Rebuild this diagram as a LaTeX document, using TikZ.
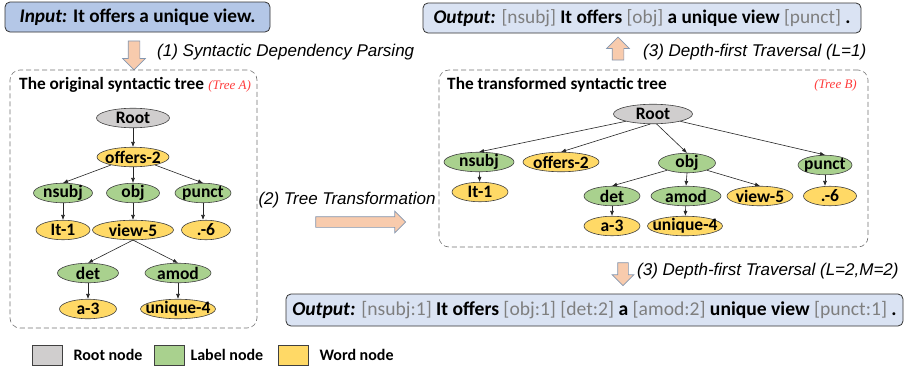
\documentclass[tikz,border=0pt]{standalone}
\usepackage{fontspec}
\setmainfont{Carlito}
\newfontfamily\stepfont{Liberation Sans}
\newfontfamily\treetagfont{Liberation Serif}
\usetikzlibrary{shapes.geometric,shapes.arrows,arrows.meta,positioning}
\definecolor{rootgrey}{HTML}{D0CECE}
\definecolor{labgreen}{HTML}{A9D18E}
\definecolor{wordyellow}{HTML}{FFD966}
\definecolor{inblue}{HTML}{B4C7E7}
\definecolor{outblue}{HTML}{DAE3F3}
\definecolor{arrowfill}{HTML}{F8CBAD}
\definecolor{arrowline}{HTML}{8497B0}
\definecolor{taggrey}{HTML}{7F7F7F}
\definecolor{tagred}{HTML}{FF3B3B}
\newcommand{\gtag}[1]{{\mdseries\color{taggrey}[#1]}}
\newcommand{\bigtext}{\fontsize{16}{19}\selectfont}
\tikzset{
  tnode/.style={ellipse, draw=black!75, line width=0.6pt, inner xsep=-8pt, inner ysep=-3pt,
    minimum height=19.5pt, font=\fontsize{17.5}{20}\selectfont\bfseries},
  rootnode/.style={tnode, fill=rootgrey},
  labnode/.style={tnode, fill=labgreen},
  wordnode/.style={tnode, fill=wordyellow},
  edge/.style={-{Latex[length=5pt,width=4pt]}, draw=black!85, line width=0.6pt},
  treebox/.style={draw=black!55, dash pattern=on 5pt off 3pt, rounded corners=10pt,
    line width=0.6pt, inner sep=0pt},
  sentbox/.style={draw=black!80, rounded corners=5pt, line width=0.8pt, inner sep=0pt},
  bigarrow/.style={single arrow, draw=arrowline, fill=arrowfill, line width=0.7pt,
    inner xsep=0pt, inner ysep=5.5pt, single arrow head extend=5.5pt},
  steplabel/.style={font=\stepfont\itshape\fontsize{17}{20}\selectfont, inner sep=0pt},
  treetitle/.style={font=\fontsize{17.3}{20}\selectfont\bfseries, inner sep=0pt},
  treetag/.style={font=\treetagfont\itshape\fontsize{13}{15}\selectfont, text=tagred, inner sep=0pt},
  legbox/.style={draw=black!75, line width=0.7pt, minimum width=30pt, minimum height=20pt, inner sep=0pt},
  legtext/.style={font=\bigtext\bfseries, inner sep=0pt}
}
\begin{document}
\begin{tikzpicture}[x=1pt,y=-1pt]
  \fill[white] (0,0) rectangle (908,370);
  \useasboundingbox (0,0) rectangle (908,370);

  % sentences
  \node[sentbox, fill=inblue, minimum width=265pt, minimum height=30pt,
    font=\fontsize{19.3}{22}\selectfont\bfseries] (input) at (137.5,17)
    {\textit{Input:} It offers a unique view.};
  \node[sentbox, fill=outblue, minimum width=438pt, minimum height=30pt,
    font=\fontsize{19.3}{22}\selectfont\bfseries] (outone) at (642,18)
    {\textit{Output:} \gtag{nsubj} It offers \gtag{obj} a unique view \gtag{punct} .};
  \node[sentbox, fill=outblue, minimum width=617pt, minimum height=32pt,
    font=\fontsize{19.6}{22}\selectfont\bfseries] (outtwo) at (594.5,310)
    {\textit{Output:} \gtag{nsubj:1} It offers \gtag{obj:1} \gtag{det:2} a \gtag{amod:2} unique view \gtag{punct:1} .};

  % steps
  \node[bigarrow, rotate=-90, minimum height=29pt] (arrone) at (134,52.5) {};
  \node[steplabel, anchor=west] (stepone) at (157,52) {(1) Syntactic Dependency Parsing};
  \node[bigarrow, minimum height=90pt, inner ysep=5pt] (arrtwo) at (358,222) {};
  \node[steplabel] (steptwo) at (347,200) {(2) Tree Transformation};
  \node[bigarrow, rotate=90, minimum height=23pt] (arrthreea) at (618,51.5) {};
  \node[steplabel, anchor=west] (stepthreea) at (643,52) {(3) Depth-first Traversal (L=1)};
  \node[bigarrow, rotate=-90, minimum height=23pt, inner ysep=5pt] (arrthreeb) at (623,271.5) {};
  \node[steplabel, anchor=west] (stepthreeb) at (637,271) {(3) Depth-first Traversal (L=2,M=2)};

  % tree A
  \node[treebox, minimum width=247pt, minimum height=258pt] (boxA) at (133.5,199) {};
  \node[treetitle, anchor=west] (titleA) at (19,85) {The original syntactic tree};
  \node[treetag, anchor=base west] (tagA) at ([xshift=4pt]titleA.base east) {(Tree A)};

  \node[rootnode, minimum width=73pt] (rootA) at (133,118) {Root};
  \node[wordnode, minimum width=72pt] (offA) at (133,157) {offers-2};
  \node[labnode, minimum width=59pt] (nsubjA) at (63,193) {nsubj};
  \node[labnode, minimum width=53pt] (objA) at (133,193) {obj};
  \node[labnode, minimum width=56pt] (punctA) at (203,193) {punct};
  \node[wordnode, minimum width=54pt] (itA) at (63,230) {It-1};
  \node[wordnode, minimum width=81pt] (viewA) at (133,230) {view-5};
  \node[wordnode, minimum width=49pt] (dotA) at (206,230) {.-6};
  \node[labnode, minimum width=61pt] (detA) at (88,273) {det};
  \node[labnode, minimum width=66pt] (amodA) at (178,273) {amod};
  \node[wordnode, minimum width=57pt] (aA) at (88,309) {a-3};
  \node[wordnode, minimum width=75pt] (uniqueA) at (178,309) {unique-4};

  \draw[edge] (rootA) -- (offA);
  \draw[edge] (offA.200) -- (nsubjA.north);
  \draw[edge] (offA) -- (objA);
  \draw[edge] (offA.340) -- (punctA.north);
  \draw[edge] (nsubjA) -- (itA);
  \draw[edge] (objA) -- (viewA);
  \draw[edge] (punctA.south) -- (dotA.north -| punctA.south);
  \draw[edge] (viewA.south) -- (detA.north);
  \draw[edge] (viewA.south) -- (amodA.north);
  \draw[edge] (detA) -- (aA);
  \draw[edge] (amodA) -- (uniqueA);

  % tree B
  \node[treebox, minimum width=429pt, minimum height=177pt] (boxB) at (653.5,158.5) {};
  \node[treetitle, anchor=west] (titleB) at (447,85) {The transformed syntactic tree};
  \node[treetag, anchor=east] (tagB) at (857,85) {(Tree B)};

  \node[rootnode, minimum width=79pt] (rootB) at (653,114) {Root};
  \node[labnode, minimum width=70pt] (nsubjB) at (479,162) {nsubj};
  \node[wordnode, minimum width=76pt] (offB) at (561,162) {offers-2};
  \node[labnode, minimum width=57pt] (objB) at (687,163) {obj};
  \node[labnode, minimum width=54pt] (punctB) at (825,165) {punct};
  \node[wordnode, minimum width=56pt] (itB) at (480,192) {It-1};
  \node[labnode, minimum width=56pt] (detB) at (612,196) {det};
  \node[labnode, minimum width=70pt] (amodB) at (686,196) {amod};
  \node[wordnode, minimum width=66pt] (viewB) at (760,196) {view-5};
  \node[wordnode, minimum width=53pt] (dotB) at (830,196) {.-6};
  \node[wordnode, minimum width=56pt] (aB) at (612,226) {a-3};
  \node[wordnode, minimum width=75pt] (uniqueB) at (685,226) {unique-4};

  \draw[edge] (rootB.195) -- (nsubjB.north);
  \draw[edge] (rootB.255) -- (offB.north);
  \draw[edge] (rootB.290) -- (objB.north);
  \draw[edge] (rootB.345) -- (punctB.north);
  \draw[edge] (nsubjB) -- (itB);
  \draw[edge] (objB.200) -- (detB.north);
  \draw[edge] (objB.south) -- (amodB.north);
  \draw[edge] (objB.340) -- (viewB.north);
  \draw[edge] (punctB) -- (dotB.north -| punctB.south);
  \draw[edge] (detB) -- (aB);
  \draw[edge] (amodB) -- (uniqueB);

  % legend
  \node[legbox, fill=rootgrey] (legroot) at (47,355) {};
  \node[legtext, right=11pt of legroot] (legroottxt) {Root node};
  \node[legbox, fill=labgreen] (leglab) at (169,355) {};
  \node[legtext, right=6pt of leglab] (leglabtxt) {Label node};
  \node[legbox, fill=wordyellow] (legword) at (293,355) {};
  \node[legtext, right=11pt of legword] (legwordtxt) {Word node};
\end{tikzpicture}
\end{document}
